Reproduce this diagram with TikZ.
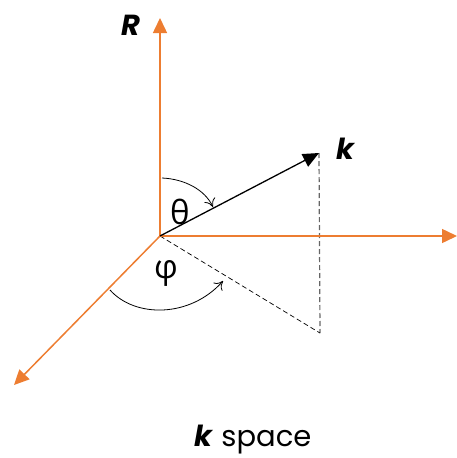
\documentclass[tikz,border=0pt]{standalone}
\usepackage{fontspec}
\setmainfont{Poppins}
\newfontfamily\greekfont{Open Sans}
\usetikzlibrary{arrows.meta}
\definecolor{axorange}{HTML}{ED7D31}
\tikzset{
  axis/.style={draw=axorange, line width=1.5pt, -{Triangle[length=15pt,width=14pt]}},
  kvec/.style={draw=black, line width=1.3pt, -{Triangle[length=16pt,width=14pt]}},
  anglearc/.style={draw=black, line width=0.8pt, -{To[length=8pt,width=12pt]}},
  lbl/.style={font=\fontsize{29}{33}\selectfont},
  glbl/.style={font=\greekfont\fontsize{33}{37}\selectfont}
}
\begin{document}
\begin{tikzpicture}[x=1pt,y=-1pt]
\useasboundingbox (0,0) rectangle (457,458);
\coordinate (O) at (160,236);
\coordinate (Rtip) at (160,18);
\coordinate (Xtip) at (457,236);
\coordinate (Ytip) at (14,385);
\coordinate (K) at (319,153);
\coordinate (P) at (320,333);
\coordinate (Ts) at (162,178);
\coordinate (Te) at (213,207);
\coordinate (Ps) at (110,290);
\coordinate (Pe) at (223,281);
% dashed projection
\draw[draw=black!60, line width=1.2pt, dash pattern=on 5pt off 3pt] (K) -- (P);
\draw[draw=black, line width=0.7pt, dash pattern=on 5pt off 3pt] (O) -- (P);
% axes
\draw[axis] (O) -- (Rtip);
\draw[axis] (O) -- (Xtip);
\draw[axis] (O) -- (Ytip);
% k vector
\draw[kvec] (O) -- (K);
% angle arcs
\draw[anglearc] (Ts) .. controls (185,179) and (205,190) .. (Te);
\draw[anglearc] (Ps) .. controls (135,318) and (190,318) .. (Pe);
% labels
\node[lbl] (Rl) at (131,25) {\bfseries\itshape R};
\node[lbl] (Kl) at (345,149) {\bfseries\itshape k};
\node[glbl] (th) at (180,212) {θ};
\node[glbl] (ph) at (166,273) {φ};
\node[lbl, anchor=base] (cap) at (253,446) {\textbf{\textit{k}} space};
\end{tikzpicture}
\end{document}
